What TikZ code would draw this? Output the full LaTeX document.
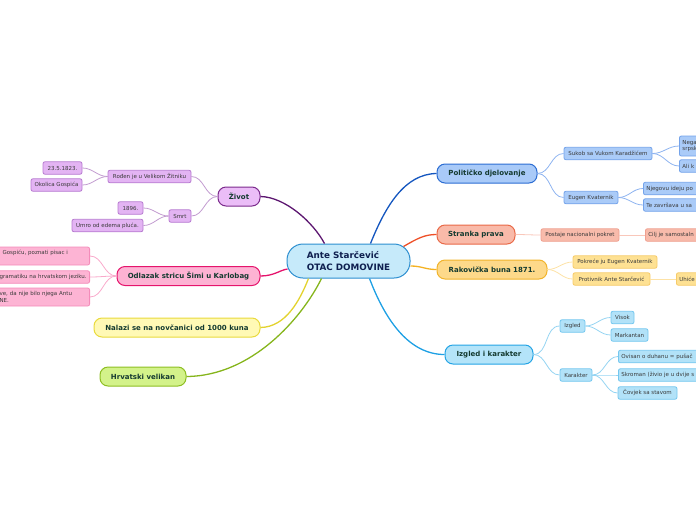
\documentclass[tikz,border=0pt]{standalone}
\usepackage{fontspec}
\setmainfont{DejaVu Sans}
\usetikzlibrary{calc}

\definecolor{ctrfill}{HTML}{C6EAFA}
\definecolor{ctrline}{HTML}{2B8ED0}
\definecolor{ctrtext}{HTML}{0E1F4F}
\definecolor{maintext}{HTML}{143A30}
\definecolor{leaftext}{HTML}{3A3A3A}
\definecolor{purfill}{HTML}{EBBDF7}
\definecolor{purline}{HTML}{7B2B8C}
\definecolor{purlink}{HTML}{5C1670}
\definecolor{purleaf}{HTML}{E3B4F3}
\definecolor{purleafline}{HTML}{B77BD0}
\definecolor{purtwig}{HTML}{C29BD0}
\definecolor{pinkfill}{HTML}{FDB2D3}
\definecolor{pinkline}{HTML}{E5146C}
\definecolor{pinkleaf}{HTML}{FDB4D4}
\definecolor{pinkleafline}{HTML}{F48CBA}
\definecolor{pinktwig}{HTML}{F9A9CB}
\definecolor{yelfill}{HTML}{FFF9B5}
\definecolor{yelline}{HTML}{E9DA3C}
\definecolor{yellink}{HTML}{E3D330}
\definecolor{grnfill}{HTML}{D3F28A}
\definecolor{grnline}{HTML}{8DBE22}
\definecolor{grnlink}{HTML}{86B51C}
\definecolor{polfill}{HTML}{A9CAF8}
\definecolor{polline}{HTML}{2C6DD3}
\definecolor{pollink}{HTML}{1456BF}
\definecolor{polleaf}{HTML}{AACBF8}
\definecolor{polleafline}{HTML}{74A3EA}
\definecolor{poltwig}{HTML}{8DB3F0}
\definecolor{orgfill}{HTML}{F9BAA9}
\definecolor{orgline}{HTML}{E96A48}
\definecolor{orglink}{HTML}{EE4F27}
\definecolor{orgleaf}{HTML}{F8BBAB}
\definecolor{orgleafline}{HTML}{EFA090}
\definecolor{orgtwig}{HTML}{F9C7BA}
\definecolor{goldfill}{HTML}{FDD98A}
\definecolor{goldline}{HTML}{F1B42C}
\definecolor{goldlink}{HTML}{F4B223}
\definecolor{goldleaf}{HTML}{FEE193}
\definecolor{goldleafline}{HTML}{F6CB6A}
\definecolor{goldtwig}{HTML}{FDE2A6}
\definecolor{cyanfill}{HTML}{B4E4F9}
\definecolor{cyanline}{HTML}{24A4E5}
\definecolor{cyanlink}{HTML}{1EA0E4}
\definecolor{cyanleaf}{HTML}{B2E2F8}
\definecolor{cyanleafline}{HTML}{74C7EF}
\definecolor{cyantwig}{HTML}{95D4F2}

\begin{document}
\begin{tikzpicture}[x=1pt,y=-1pt,
    mainbox/.style 2 args={draw=#2, fill=#1, line width=1pt, rounded corners=8,
        font=\bfseries\fontsize{7}{8.4}\selectfont, text=maintext,
        minimum height=19, inner xsep=6, inner ysep=2},
    leafbox/.style 2 args={draw=#2, fill=#1, line width=0.8pt, rounded corners=2,
        font=\fontsize{5.5}{6.8}\selectfont, text=leaftext,
        minimum height=12.5, inner xsep=3, inner ysep=1},
    link/.style={line width=1.3pt},
    twig/.style={line width=0.8pt}]
    \useasboundingbox (0,0) rectangle (696,520);

    \node[draw=ctrline, fill=ctrfill, line width=1pt, rounded corners=16,
        minimum width=123, minimum height=34, align=left, text=ctrtext,
        font=\bfseries\fontsize{8.8}{12}\selectfont] (center) at (348.5,261)
        {Ante Starčević\\OTAC DOMOVINE};

    \node[mainbox={purfill}{purline}, minimum width=42] (zivot) at (239,196.5) {Život};
    \node[mainbox={pinkfill}{pinkline}, minimum width=143] (odlazak) at (188.5,276) {Odlazak stricu Šimi u Karlobag};
    \node[mainbox={yelfill}{yelline}, minimum width=166] (nalazi) at (177,327.5) {Nalazi se na novčanici od 1000 kuna};
    \node[mainbox={grnfill}{grnline}, minimum width=86] (hrvatski) at (143,376.5) {Hrvatski velikan};
    \node[mainbox={polfill}{polline}, minimum width=100] (politicko) at (487,173.5) {Političko djelovanje};
    \node[mainbox={orgfill}{orgline}, minimum width=78] (stranka) at (476,234.5) {Stranka prava};
    \node[mainbox={goldfill}{goldline}, minimum width=110] (rakovicka) at (492,269.5) {Rakovička buna 1871.};
    \node[mainbox={cyanfill}{cyanline}, minimum width=88] (izgled) at (489,354.5) {Izgled i karakter};

    \draw[link, purlink] (zivot.east) .. controls (285,197) and (313,222) .. ($(center.north west)+(38,0)$);
    \draw[link, pinkline] (odlazak.east) .. controls (274,276) and (280,270) .. ($(center.west)+(1,8)$);
    \draw[link, yellink] (nalazi.east) .. controls (286,327) and (300,300) .. ($(center.south west)+(22,0)$);
    \draw[link, grnlink] (hrvatski.east) .. controls (252,376) and (302,318) .. ($(center.south west)+(35,0)$);
    \draw[link, pollink] ($(center.north west)+(84,0)$) .. controls (386,205) and (405,174) .. (politicko.west);
    \draw[link, orglink] ($(center.north east)+(-7,3)$) .. controls (418,238) and (425,234.5) .. (stranka.west);
    \draw[link, goldlink] ($(center.east)+(0,5)$) .. controls (422,266) and (425,269.5) .. (rakovicka.west);
    \draw[link, cyanlink] ($(center.south west)+(83,0)$) .. controls (386,322) and (410,354.5) .. (izgled.west);

    \node[leafbox={purleaf}{purleafline}, minimum width=83] (rodjen) at (149.5,176.5) {Rođen je u Velikom Žitniku};
    \node[leafbox={purleaf}{purleafline}, minimum width=39] (datum) at (62.5,168) {23.5.1823.};
    \node[leafbox={purleaf}{purleafline}, minimum width=51] (okolica) at (56.5,185) {Okolica Gospića};
    \node[leafbox={purleaf}{purleafline}, minimum width=22] (smrt) at (180,216) {Smrt};
    \node[leafbox={purleaf}{purleafline}, minimum width=25] (godina) at (130.5,208) {1896.};
    \node[leafbox={purleaf}{purleafline}, minimum width=71] (umro) at (107.5,225.5) {Umro od edema pluća.};
    \foreach \c in {rodjen,smrt}
        \draw[twig, purtwig] (zivot.west) to[out=180,in=0] (\c.east);
    \foreach \c in {datum,okolica}
        \draw[twig, purtwig] (rodjen.west) to[out=180,in=0] (\c.east);
    \foreach \c in {godina,umro}
        \draw[twig, purtwig] (smrt.west) to[out=180,in=0] (\c.east);

    \node[leafbox={pinkleaf}{pinkleafline}, anchor=east, text width=150, align=left, minimum height=18] (pisac) at (90,256)
        {\mbox{\hspace*{66pt}Gospiću, poznati pisac i}\\\mbox{}};
    \node[leafbox={pinkleaf}{pinkleafline}, anchor=east, text width=150, align=left] (gramatika) at (90,277)
        {\mbox{\hspace*{63pt}gramatiku na hrvatskom jeziku.}};
    \node[leafbox={pinkleaf}{pinkleafline}, anchor=east, text width=150, align=left, minimum height=18] (antu) at (90,297)
        {\mbox{\hspace*{63pt}ve, da nije bilo njega Antu}\\\mbox{\hspace*{63pt}NE.}};
    \foreach \c in {pisac,gramatika,antu}
        \draw[twig, pinktwig] (odlazak.west) to[out=180,in=0] (\c.east);

    \node[leafbox={polleaf}{polleafline}, minimum width=88] (sukob) at (608,153.5) {Sukob sa Vukom Karadžićem};
    \node[leafbox={polleaf}{polleafline}, anchor=west, text width=90, align=left, minimum height=20] (nega) at (679,146) {Nega\\srpsk};
    \node[leafbox={polleaf}{polleafline}, anchor=west, text width=90, align=left] (ali) at (679,166) {Ali k};
    \node[leafbox={polleaf}{polleafline}, minimum width=54] (eugen) at (591,197.5) {Eugen Kvaternik};
    \node[leafbox={polleaf}{polleafline}, anchor=west, text width=90, align=left] (ideja) at (643,188.5) {Njegovu ideju po};
    \node[leafbox={polleaf}{polleafline}, anchor=west, text width=90, align=left] (zavrsava) at (643,205) {Te završava u sa};
    \foreach \c in {sukob,eugen}
        \draw[twig, poltwig] (politicko.east) to[out=0,in=180] (\c.west);
    \foreach \c in {nega,ali}
        \draw[twig, poltwig] (sukob.east) to[out=0,in=180] (\c.west);
    \foreach \c in {ideja,zavrsava}
        \draw[twig, poltwig] (eugen.east) to[out=0,in=180] (\c.west);

    \node[leafbox={orgleaf}{orgleafline}, minimum width=78] (pokret) at (580,235) {Postaje nacionalni pokret};
    \node[leafbox={orgleaf}{orgleafline}, anchor=west, text width=90, align=left] (cilj) at (645,235) {Cilj je samostaln};
    \draw[twig, orgtwig] (stranka.east) to[out=0,in=180] (pokret.west);
    \draw[twig, orgtwig] (pokret.east) -- (cilj.west);

    \node[leafbox={goldleaf}{goldleafline}, minimum width=84] (pokrece) at (615,262) {Pokreće ju Eugen Kvaternik};
    \node[leafbox={goldleaf}{goldleafline}, minimum width=77] (protivnik) at (611.5,279) {Protivnik Ante Starčević};
    \node[leafbox={goldleaf}{goldleafline}, anchor=west, text width=90, align=left] (uhicen) at (676,279) {Uhiće};
    \foreach \c in {pokrece,protivnik}
        \draw[twig, goldtwig] (rakovicka.east) to[out=0,in=180] (\c.west);
    \draw[twig, goldtwig] (protivnik.east) -- (uhicen.west);

    \node[leafbox={cyanleaf}{cyanleafline}, minimum width=25] (izgledl) at (572.5,326) {Izgled};
    \node[leafbox={cyanleaf}{cyanleafline}, minimum width=23] (visok) at (622.5,317.5) {Visok};
    \node[leafbox={cyanleaf}{cyanleafline}, minimum width=37] (markantan) at (629.5,335) {Markantan};
    \node[leafbox={cyanleaf}{cyanleafline}, minimum width=32] (karakter) at (576,375) {Karakter};
    \node[leafbox={cyanleaf}{cyanleafline}, anchor=west, text width=90, align=left] (ovisan) at (618,356.5) {Ovisan o duhanu = pušač};
    \node[leafbox={cyanleaf}{cyanleafline}, anchor=west, text width=90, align=left] (skroman) at (618,375) {Skroman (živio je u dvije s};
    \node[leafbox={cyanleaf}{cyanleafline}, minimum width=59] (stav) at (647.5,393) {Čovjek sa stavom};
    \foreach \c in {izgledl,karakter}
        \draw[twig, cyantwig] (izgled.east) to[out=0,in=180] (\c.west);
    \foreach \c in {visok,markantan}
        \draw[twig, cyantwig] (izgledl.east) to[out=0,in=180] (\c.west);
    \foreach \c in {ovisan,skroman,stav}
        \draw[twig, cyantwig] (karakter.east) to[out=0,in=180] (\c.west);
\end{tikzpicture}
\end{document}
